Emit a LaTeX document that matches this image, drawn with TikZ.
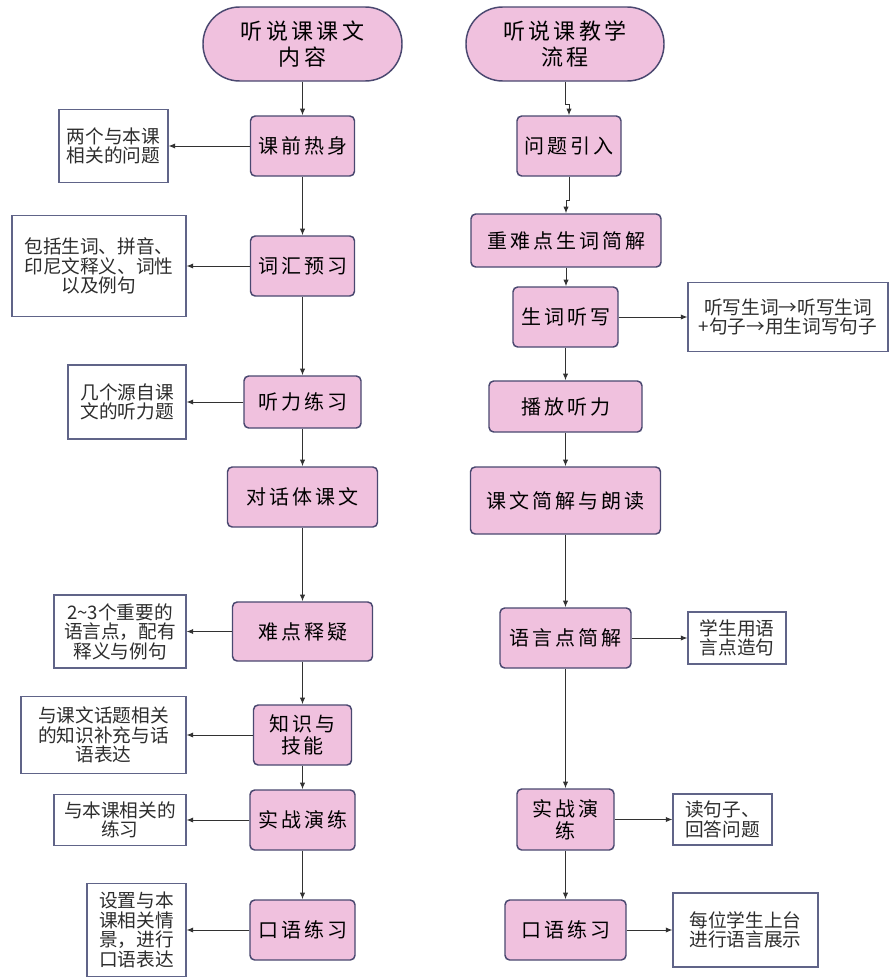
\documentclass[tikz,border=0pt]{standalone}
\usepackage{fontspec}
\setmainfont{Noto Sans CJK SC}
\newfontfamily\kaifont[LetterSpace=15]{Noto Sans CJK SC}
\usetikzlibrary{arrows.meta}
\definecolor{pinkfill}{RGB}{240,193,222}
\definecolor{pinkline}{RGB}{74,72,112}
\definecolor{noteline}{RGB}{96,100,136}
\definecolor{arrowc}{RGB}{50,50,50}
\definecolor{notetext}{RGB}{45,45,45}
\begin{document}
\begin{tikzpicture}[x=0.75pt,y=-0.75pt,
  pbox/.style 2 args={draw=pinkline, fill=pinkfill, line width=1.1pt, rounded corners=3.5pt,
    minimum width=#1*0.75pt, minimum height=#2*0.75pt, inner sep=0pt, align=center,
    font=\kaifont\fontsize{15pt}{16.5pt}\selectfont},
  term/.style 2 args={pbox={#1}{#2}, rounded corners=27.5pt,
    font=\kaifont\fontsize{16.5pt}{19.5pt}\selectfont},
  note/.style 2 args={draw=noteline, fill=white, line width=0.85pt,
    minimum width=#1*0.75pt, minimum height=#2*0.75pt, inner sep=0pt, align=center,
    text=notetext, font=\fontsize{14pt}{14.6pt}\selectfont},
  arr/.style={draw=arrowc, line width=0.75pt, -{Latex[length=5pt,width=4pt]}}]
\fill[white] (0,0) rectangle (895,979);
\useasboundingbox (0,0) rectangle (895,979);

% left column
\node[term={199}{74}] (t1) at (302.5,44) {听说课课文\\内容};
\node[pbox={104}{60}] (a1) at (302.5,146) {课前热身};
\node[pbox={104}{60}] (a2) at (302.5,266) {词汇预习};
\node[pbox={117}{52}] (a3) at (302.5,402) {听力练习};
\node[pbox={150}{60}] (a4) at (302.5,497) {对话体课文};
\node[pbox={140}{59}] (a5) at (302.5,631.5) {难点释疑};
\node[pbox={98}{60}] (a6) at (302.5,735) {知识与\\技能};
\node[pbox={105}{60}] (a7) at (302.5,820) {实战演练};
\node[pbox={105}{60}] (a8) at (302.5,930) {口语练习};

\node[note={109}{73}] (n1) at (113.5,146) {两个与本课\\相关的问题};
\node[note={174}{101}] (n2) at (99,266) {包括生词、拼音、\\印尼文释义、词性\\以及例句};
\node[note={118}{74}] (n3) at (127,402) {几个源自课\\文的听力题};
\node[note={132}{73}] (n5) at (120,631.5) {2\textasciitilde 3个重要的\\语言点，配有\\释义与例句};
\node[note={165}{77}] (n6) at (103.5,735) {与课文话题相关\\的知识补充与话\\语表达};
\node[note={132}{51}] (n7) at (120,820) {与本课相关的\\练习};
\node[note={99}{93}] (n8) at (136.5,930) {设置与本\\课相关情\\景，进行\\口语表达};

% right column
\node[term={198}{74}] (t2) at (565,44) {听说课教学\\流程};
\node[pbox={104}{60}] (b1) at (569,146) {问题引入};
\node[pbox={190}{53}] (b2) at (566,240.5) {重难点生词简解};
\node[pbox={105}{60}] (b3) at (565.5,317) {生词听写};
\node[pbox={153}{51}] (b4) at (565.5,406.5) {播放听力};
\node[pbox={190}{67}] (b5) at (565.5,500.5) {课文简解与朗读};
\node[pbox={131}{60}] (b6) at (565.5,638) {语言点简解};
\node[pbox={97}{61}] (b7) at (565.5,819.5) {实战演\\练};
\node[pbox={121}{60}] (b8) at (565.5,930) {口语练习};

\node[note={200}{69}] (m3) at (788,317) {听写生词→听写生词\\+句子→用生词写句子};
\node[note={98}{52}] (m6) at (737,638) {学生用语\\言点造句};
\node[note={99}{51}] (m7) at (722.5,819.5) {读句子、\\回答问题};
\node[note={145}{74}] (m8) at (745.5,930) {每位学生上台\\进行语言展示};

% left arrows
\draw[arr] (t1) -- (a1);
\draw[arr] (a1) -- (a2);
\draw[arr] (a2) -- (a3);
\draw[arr] (a3) -- (a4);
\draw[arr] (a4) -- (a5);
\draw[arr] (a5) -- (a6);
\draw[arr] (a6) -- (a7);
\draw[arr] (a7) -- (a8);
\draw[arr] (a1.west) -- (a1.west -| n1.east);
\draw[arr] (a2.west) -- (a2.west -| n2.east);
\draw[arr] (a3.west) -- (a3.west -| n3.east);
\draw[arr] (a5.west) -- (a5.west -| n5.east);
\draw[arr] (a6.west) -- (a6.west -| n6.east);
\draw[arr] (a7.west) -- (a7.west -| n7.east);
\draw[arr] (a8.west) -- (a8.west -| n8.east);

% right arrows
\draw[arr] (t2.south) -- ++(0,23) -| (b1.north);
\draw[arr] (b1.south) -- ++(0,24) -| (b2.north);
\draw[arr] (b2.south) -- (b2.south |- b3.north);
\draw[arr] (b3) -- (b4);
\draw[arr] (b4) -- (b5);
\draw[arr] (b5) -- (b6);
\draw[arr] (b6) -- (b7);
\draw[arr] (b7) -- (b8);
\draw[arr] (b3.east) -- (b3.east -| m3.west);
\draw[arr] (b6.east) -- (b6.east -| m6.west);
\draw[arr] (b7.east) -- (b7.east -| m7.west);
\draw[arr] (b8.east) -- (b8.east -| m8.west);
\end{tikzpicture}
\end{document}
